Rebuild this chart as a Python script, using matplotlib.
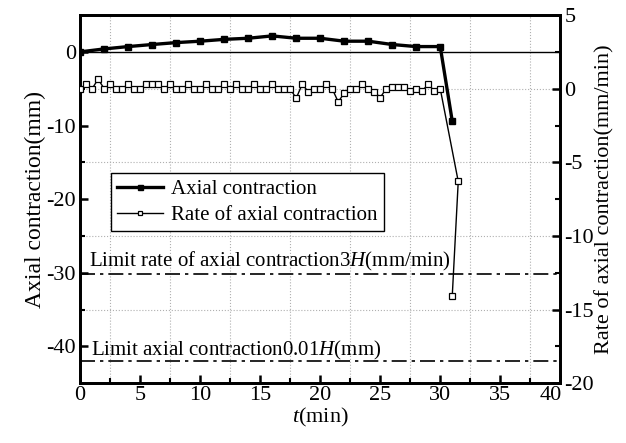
import matplotlib
matplotlib.use('Agg')
import matplotlib.pyplot as plt
from matplotlib.ticker import MultipleLocator
from matplotlib.transforms import ScaledTranslation

plt.rcParams['font.family'] = ['Liberation Serif', 'DejaVu Serif']
plt.rcParams['mathtext.fontset'] = 'custom'
plt.rcParams['mathtext.rm'] = 'Liberation Serif'
plt.rcParams['mathtext.it'] = 'Liberation Serif:italic'
plt.rcParams['axes.unicode_minus'] = False

# axial contraction (mm), left axis
t_axial = [0, 2, 4, 6, 8, 10, 12, 14, 16, 18, 20, 22, 24, 26, 28, 30, 31]
axial = [0, 0.4, 0.72, 1.0, 1.26, 1.45, 1.7, 1.85, 2.17, 1.85, 1.85, 1.45, 1.45, 1.0, 0.72, 0.72, -9.4]

# rate of axial contraction (mm/min), right axis, every 0.5 min up to 30
t_rate = [i * 0.5 for i in range(61)] + [31.5, 31.0]
rate = [0.0, 0.3, 0.0, 0.65, 0.0, 0.3, 0.0, 0.0, 0.3, 0.0,
        0.0, 0.3, 0.3, 0.3, 0.0, 0.3, 0.0, 0.0, 0.3, 0.0,
        0.0, 0.3, 0.0, 0.0, 0.3, 0.0, 0.3, 0.0, 0.0, 0.3,
        0.0, 0.0, 0.3, 0.0, 0.0, 0.0, -0.65, 0.3, -0.2, 0.0,
        0.0, 0.3, 0.0, -0.9, -0.3, 0.0, 0.0, 0.3, 0.0, -0.2,
        -0.6, 0.0, 0.1, 0.1, 0.1, -0.15, 0.0, -0.15, 0.3, -0.15,
        0.0, -6.3, -14.1]

limit_axial = -42     # 0.01H (mm)
limit_rate = -12.6    # 3H (mm/min)

fig, ax = plt.subplots(figsize=(6.26, 4.43), dpi=100)
fig.subplots_adjust(left=0.128, right=0.895, top=0.966, bottom=0.135)
ax2 = ax.twinx()

ax.set_xlim(0, 40)
ax.set_ylim(-45, 5)
ax2.set_ylim(-20, 5)

# grid: dotted grey at minor x and at left minor y
ax.set_xticks(range(0, 41, 5))
ax.xaxis.set_minor_locator(MultipleLocator(2.5))
ax.yaxis.set_major_locator(MultipleLocator(10))
ax2.yaxis.set_major_locator(MultipleLocator(5))
ax2.yaxis.set_minor_locator(MultipleLocator(2.5))
ax.set_yticks([-35, -25, -15, -5], minor=True)
ax.grid(True, which='minor', color='#b0b0b0', linestyle=':', linewidth=0.8)
ax.set_axisbelow(True)

ax.axhline(0, color='black', lw=1.0, zorder=2)
ax.axhline(limit_axial, color='black', lw=1.2, linestyle=(0, (9, 3, 2, 3)))
ax2.axhline(limit_rate, color='black', lw=1.2, linestyle=(0, (9, 3, 2, 3)))

l1, = ax.plot(t_axial, axial, color='black', lw=2.4, marker='s', ms=4.5,
              mfc='black', mec='black', zorder=5)
l2, = ax2.plot(t_rate, rate, color='black', lw=1.0, marker='s', ms=3.7,
               mfc='white', mec='black', mew=0.9, zorder=5)

ax.text(0.7, -29.2, 'Limit rate of axial contraction3$H$(mm/min)', fontsize=15)
ax.text(0.9, -41.3, 'Limit axial contraction0.01$H$(mm)', fontsize=15)

leg = ax.legend([l1, l2], ['Axial contraction', 'Rate of axial contraction'],
                loc='upper left', bbox_to_anchor=(0.064, 0.57), fontsize=15,
                fancybox=False, edgecolor='black', framealpha=1,
                handlelength=2.2, borderpad=0.3, labelspacing=0.3,
                handletextpad=0.4, markerscale=0.8, borderaxespad=0)
leg.get_frame().set_linewidth(1.0)
leg.set_zorder(10)

for a in (ax, ax2):
    for s in a.spines.values():
        s.set_linewidth(2.0)
ax.tick_params(axis='both', which='major', direction='in', length=6, width=1.8,
               labelsize=16, top=False, pad=3)
ax.tick_params(axis='both', which='minor', direction='in', length=3.5, width=1.5, top=False)
ax2.tick_params(axis='y', which='major', direction='in', length=6, width=1.8, labelsize=16, pad=3)
ax2.tick_params(axis='y', which='minor', direction='in', length=3.5, width=1.5)
ax.tick_params(axis='x', which='major', pad=2)

# the last x label sits a bit to the left, as in the original
lab = ax.get_xticklabels()[-1]
lab.set_transform(lab.get_transform() + ScaledTranslation(-7 / 72, 0, fig.dpi_scale_trans))

ax.set_xlabel('$t$(min)', fontsize=16, labelpad=1)
ax.set_ylabel('Axial contraction(mm)', fontsize=17, labelpad=0)
ax2.set_ylabel('Rate of axial contraction(mm/min)', fontsize=16, labelpad=1)

fig.savefig('out.png', dpi=100)
